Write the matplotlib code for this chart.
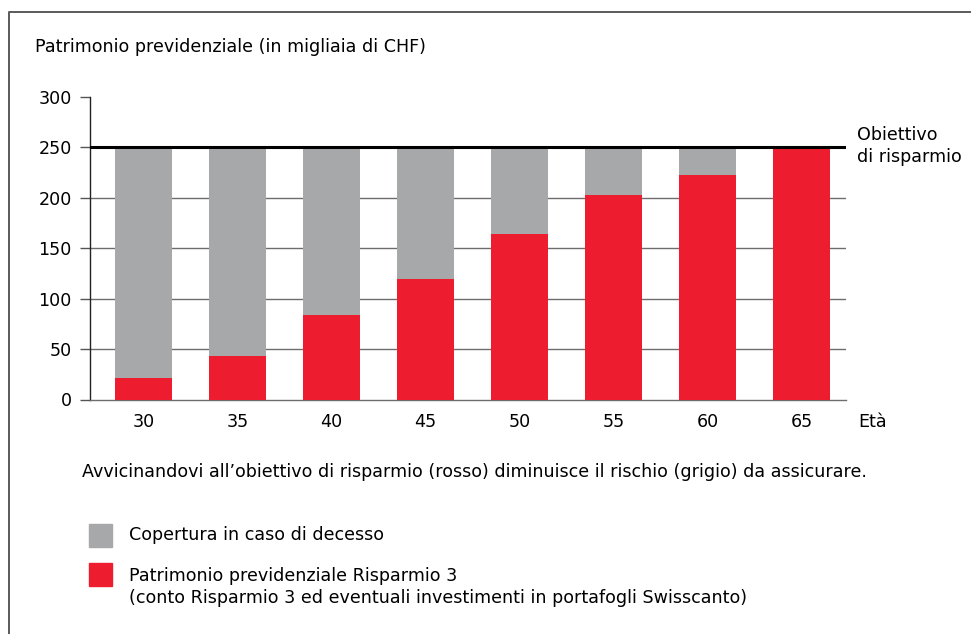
import matplotlib
matplotlib.use("Agg")
import matplotlib.pyplot as plt
from matplotlib.lines import Line2D
from matplotlib.patches import Rectangle

plt.rcParams['font.family'] = ['DejaVu Sans']

# data
ages = ["30", "35", "40", "45", "50", "55", "60", "65"]
savings = [21, 43, 84, 120, 164, 203, 223, 250]   # rosso
goal = 250
coverage = [goal - s for s in savings]             # grigio
y_ticks = [0, 50, 100, 150, 200, 250, 300]

red = "#ED1C2E"
grey = "#A7A8AA"
FS = 12.6

W, H = 971, 634
fig = plt.figure(figsize=(W / 100, H / 100), dpi=100)


def px(x, y):
    # pixel coords (from top-left) -> figure fraction
    return x / W, 1 - y / H


# axes placed in pixel space
left, right, top, bottom = 90, 846, 97, 399.5
ax = fig.add_axes([left / W, 1 - bottom / H, (right - left) / W, (bottom - top) / H])

x = list(range(len(ages)))
ax.bar(x, savings, width=0.61, color=red, zorder=3)
ax.bar(x, coverage, width=0.61, bottom=savings, color=grey, zorder=3)

ax.set_xlim(-0.57, 7.47)
ax.set_ylim(0, 300)
ax.set_yticks(y_ticks)
ax.set_yticklabels([str(t) for t in y_ticks], fontsize=FS)
ax.set_xticks(x)
ax.set_xticklabels(ages, fontsize=FS)

for yv in [50, 100, 150, 200]:
    ax.axhline(yv, color="#6d6d6d", lw=1, zorder=1)
ax.axhline(goal, color="black", lw=2.2, zorder=4)

for s in ["top", "right"]:
    ax.spines[s].set_visible(False)
ax.spines["left"].set_color("#222222")
ax.spines["left"].set_linewidth(1)
ax.spines["bottom"].set_color("#6d6d6d")
ax.spines["bottom"].set_linewidth(1)
ax.tick_params(axis="y", length=7.2, width=1, color="#555555", pad=6)
ax.tick_params(axis="x", length=0, pad=10)

fig.text(*px(858, 422), "Età", fontsize=FS, va="center", ha="left")
fig.text(*px(857, 135), "Obiettivo", fontsize=FS, va="center", ha="left")
fig.text(*px(857, 157), "di risparmio", fontsize=FS, va="center", ha="left")

fig.text(*px(35, 47), "Patrimonio previdenziale (in migliaia di CHF)", fontsize=FS,
         va="center", ha="left")
fig.text(*px(82, 472),
         "Avvicinandovi all\u2019obiettivo di risparmio (rosso) diminuisce il rischio "
         "(grigio) da assicurare.", fontsize=FS, va="center", ha="left")

# legend drawn by hand
legend_items = [(["Copertura in caso di decesso"], grey, 524, [535]),
                (["Patrimonio previdenziale Risparmio 3",
                  "(conto Risparmio 3 ed eventuali investimenti in portafogli Swisscanto)"],
                 red, 563, [576, 598])]
for lines, col, ytop, ys in legend_items:
    x0, y0 = px(89, ytop + 23)
    fig.patches.append(Rectangle((x0, y0), 23 / W, 23 / H, transform=fig.transFigure,
                                 color=col, figure=fig))
    for txt, yl in zip(lines, ys):
        fig.text(*px(129, yl), txt, fontsize=FS, va="center", ha="left")

# outer frame (left and top only)
fig.lines.append(Line2D([9 / W, 9 / W, 1], [0, 1 - 11.5 / H, 1 - 11.5 / H],
                        transform=fig.transFigure, color="#5a5a5a", lw=1.4))

fig.savefig("out.png", dpi=100)
